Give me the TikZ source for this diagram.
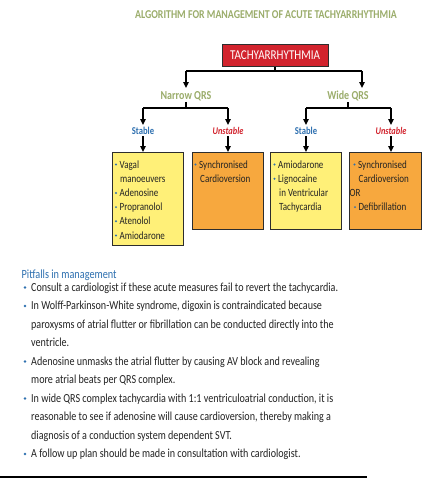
\documentclass[tikz,border=0pt]{standalone}
\usepackage{fontspec}
\setmainfont{Carlito}[FakeStretch=0.82]
\usetikzlibrary{arrows.meta}
\definecolor{oliveg}{RGB}{155,173,107}
\definecolor{alarm}{RGB}{210,35,45}
\definecolor{blueh}{RGB}{46,112,176}
\definecolor{boxy}{RGB}{255,240,120}
\definecolor{boxo}{RGB}{247,168,62}
\definecolor{edge}{RGB}{45,45,45}
\definecolor{body}{RGB}{35,35,35}
\tikzset{
  conn/.style={line width=1.3pt, draw=black},
  arr/.style={line width=1.3pt, draw=black, -{Triangle[length=6pt,width=5.5pt]}},
  ttl/.style={font=\fontsize{12}{14}\selectfont\bfseries, text=oliveg, inner sep=0},
  qrs/.style={font=\fontsize{12.2}{14}\selectfont\bfseries, text=oliveg, inner sep=0},
  stab/.style={font=\fontsize{10.5}{12}\selectfont\bfseries, text=blueh, inner sep=0},
  unst/.style={font=\fontsize{10.2}{12}\selectfont\bfseries\itshape, text=alarm, inner sep=0},
  ybox/.style={draw=edge, line width=1pt, fill=boxy, anchor=north west, inner sep=0},
  obox/.style={draw=edge, line width=1pt, fill=boxo, anchor=north west, inner sep=0},
  bt/.style={font=\fontsize{11}{13}\selectfont, text=body, anchor=base west, inner sep=0},
  bd/.style={circle, fill=blueh, inner sep=0, minimum size=2.2pt},
  mt/.style={font=\fontsize{12.3}{14}\selectfont, text=body, anchor=base west, inner sep=0},
  md/.style={circle, fill=blueh, inner sep=0, minimum size=2.6pt},
}
\begin{document}
\begin{tikzpicture}[x=1pt,y=-1pt]
\useasboundingbox[fill=white] (0,0) rectangle (431,480);
% title
\node[ttl] (title) at (266,15) {ALGORITHM FOR MANAGEMENT OF ACUTE TACHYARRHYTHMIA};
% root
\node[draw=edge, line width=1pt, fill=alarm, text=white, minimum width=106pt, minimum height=22pt, inner sep=0,
      font=\fontsize{13.5}{15}\selectfont] (tach) at (275,55) {TACHYARRHYTHMIA};
\coordinate (j0) at (275,71);
\coordinate (aL) at (186,71);
\coordinate (aR) at (362,71);
\coordinate (tL) at (186,88);
\coordinate (tR) at (362,88);
\draw[conn] (tach.south) -- (j0);
\draw[conn] (aL) -- (aR);
\draw[arr] (aL) -- (tL);
\draw[arr] (aR) -- (tR);
% QRS
\node[qrs] (narrow) at (186,96) {Narrow QRS};
\node[qrs] (wide) at (348,96) {Wide QRS};
\coordinate (nJ) at (186,108);
\coordinate (nL) at (143,108);
\coordinate (nR) at (228,108);
\coordinate (wJ) at (348,108);
\coordinate (wL) at (306,108);
\coordinate (wR) at (391,108);
\draw[conn] (narrow.south) ++(0,1) -- (nJ);
\draw[conn] (wide.south) ++(0,1) -- (wJ);
\draw[conn] (nL) -- (nR);
\draw[conn] (wL) -- (wR);
\coordinate (nLt) at (143,125);
\coordinate (nRt) at (228,125);
\coordinate (wLt) at (306,125);
\coordinate (wRt) at (391,125);
\draw[arr] (nL) -- (nLt);
\draw[arr] (nR) -- (nRt);
\draw[arr] (wL) -- (wLt);
\draw[arr] (wR) -- (wRt);
% stability labels
\node[stab] (s1) at (143,131) {Stable};
\node[unst] (u1) at (228,131) {Unstable};
\node[stab] (s2) at (306,131) {Stable};
\node[unst] (u2) at (391,131) {Unstable};
% boxes
\node[ybox, minimum width=71pt, minimum height=93pt] (b1) at (111.5,152) {};
\node[obox, minimum width=70.5pt, minimum height=77pt] (b2) at (192,152) {};
\node[ybox, minimum width=71pt, minimum height=77pt] (b3) at (270,152) {};
\node[obox, minimum width=71.5pt, minimum height=77pt] (b4) at (349,152) {};
\draw[arr] (s1.south) ++(0,1.5) -- (s1.south |- b1.north);
\draw[arr] (u1.south) ++(0,1.5) -- (u1.south |- b2.north);
\draw[arr] (s2.south) ++(0,1.5) -- (s2.south |- b3.north);
\draw[arr] (u2.south) ++(0,1.5) -- (u2.south |- b4.north);
% box 1
\node[bd] (b1d1) at (116,164.5) {};
\node[bt] (b1t1) at (119.5,168) {Vagal};
\node[bt] (b1t2) at (120,182.2) {manoeuvers};
\node[bd] (b1d2) at (116,192.9) {};
\node[bt] (b1t3) at (119.5,196.4) {Adenosine};
\node[bd] (b1d3) at (116,207.1) {};
\node[bt] (b1t4) at (119.5,210.6) {Propranolol};
\node[bd] (b1d4) at (116,221.3) {};
\node[bt] (b1t5) at (119.5,224.8) {Atenolol};
\node[bd] (b1d5) at (116,235.5) {};
\node[bt] (b1t6) at (119.5,239) {Amiodarone};
% box 2
\node[bd] (b2d1) at (195.5,164.5) {};
\node[bt] (b2t1) at (199,168) {Synchronised};
\node[bt] (b2t2) at (200,182.2) {Cardioversion};
% box 3
\node[bd] (b3d1) at (274.5,164.5) {};
\node[bt] (b3t1) at (278,168) {Amiodarone};
\node[bd] (b3d2) at (274.5,178.7) {};
\node[bt] (b3t2) at (278,182.2) {Lignocaine};
\node[bt] (b3t3) at (279,196.4) {in Ventricular};
\node[bt] (b3t4) at (279,210.6) {Tachycardia};
% box 4
\node[bd] (b4d1) at (354.5,164.5) {};
\node[bt] (b4t1) at (358,168) {Synchronised};
\node[bt] (b4t2) at (358.5,182.2) {Cardioversion};
\node[bt] (b4t3) at (349.5,196.4) {OR};
\node[bd] (b4d2) at (355,207.1) {};
\node[bt] (b4t4) at (358.5,210.6) {Defibrillation};
% pitfalls
\node[font=\fontsize{12.5}{15}\selectfont, text=blueh, anchor=base west, inner sep=0] (pit) at (21.5,278) {Pitfalls in management};
\node[md] (m1) at (25,287.5) {};
\node[mt] (l1) at (31,291) {Consult a cardiologist if these acute measures fail to revert the tachycardia.};
\node[md] (m2) at (25,306) {};
\node[mt] (l2) at (31,309.5) {In Wolff-Parkinson-White syndrome, digoxin is contraindicated because};
\node[mt] (l3) at (31,328) {paroxysms of atrial flutter or fibrillation can be conducted directly into the};
\node[mt] (l4) at (31,346.5) {ventricle.};
\node[md] (m3) at (25,361.5) {};
\node[mt] (l5) at (31,365) {Adenosine unmasks the atrial flutter by causing AV block and revealing};
\node[mt] (l6) at (31,383.5) {more atrial beats per QRS complex.};
\node[md] (m4) at (25,398.5) {};
\node[mt] (l7) at (31,402) {In wide QRS complex tachycardia with 1:1 ventriculoatrial conduction, it is};
\node[mt] (l8) at (31,420.5) {reasonable to see if adenosine will cause cardioversion, thereby making a};
\node[mt] (l9) at (31,439) {diagnosis of a conduction system dependent SVT.};
\node[md] (m5) at (25,454) {};
\node[mt] (l10) at (31,457.5) {A follow up plan should be made in consultation with cardiologist.};
% rule
\coordinate (r0) at (0,477);
\coordinate (r1) at (367,477);
\draw[line width=1.5pt] (r0) -- (r1);
\end{tikzpicture}
\end{document}
